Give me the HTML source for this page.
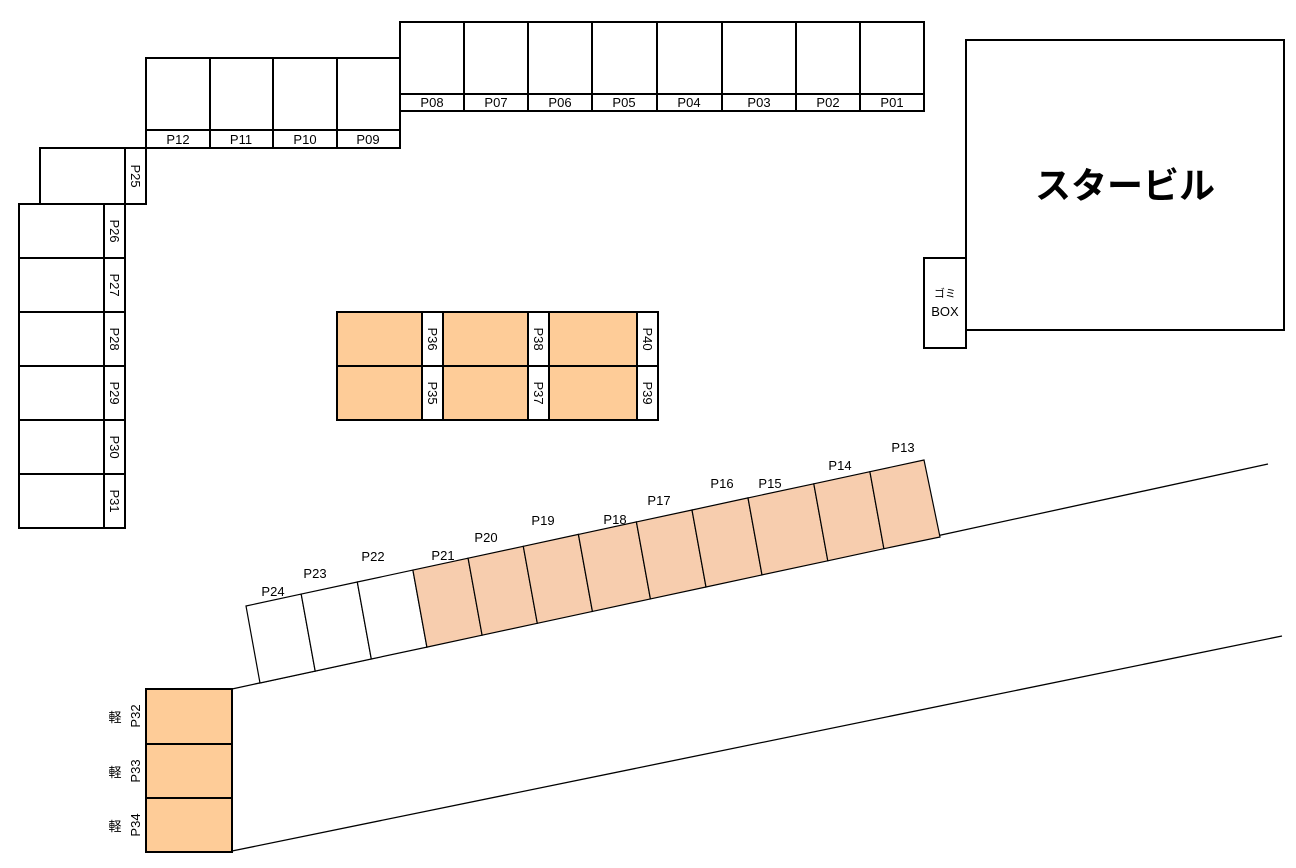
<!DOCTYPE html>
<html><head><meta charset="utf-8"><style>
html,body{margin:0;padding:0;background:#fff;}
svg{display:block;}
text{font-family:"Liberation Sans","Noto Sans CJK JP",sans-serif;font-size:13px;fill:#000;}
</style></head><body>
<svg width="1296" height="868" viewBox="0 0 1296 868" xmlns="http://www.w3.org/2000/svg">
<g fill="none" stroke="#000" stroke-width="2">
<!-- top row -->
<rect x="400" y="22" width="524" height="89"/>
<line x1="400" y1="94" x2="924" y2="94"/>
<line x1="464" y1="22" x2="464" y2="111"/><line x1="528" y1="22" x2="528" y2="111"/>
<line x1="592" y1="22" x2="592" y2="111"/><line x1="657" y1="22" x2="657" y2="111"/>
<line x1="722" y1="22" x2="722" y2="111"/><line x1="796" y1="22" x2="796" y2="111"/>
<line x1="860" y1="22" x2="860" y2="111"/>
<!-- second row -->
<rect x="146" y="58" width="254" height="90"/>
<line x1="146" y1="130" x2="400" y2="130"/>
<line x1="210" y1="58" x2="210" y2="148"/><line x1="273" y1="58" x2="273" y2="148"/><line x1="337" y1="58" x2="337" y2="148"/>
<!-- P25 -->
<rect x="40" y="148" width="106" height="56"/>
<line x1="125" y1="148" x2="125" y2="204"/>
<!-- left column -->
<rect x="19" y="204" width="106" height="324"/>
<line x1="104" y1="204" x2="104" y2="528"/>
<line x1="19" y1="258" x2="125" y2="258"/><line x1="19" y1="312" x2="125" y2="312"/>
<line x1="19" y1="366" x2="125" y2="366"/><line x1="19" y1="420" x2="125" y2="420"/>
<line x1="19" y1="474" x2="125" y2="474"/>
</g>
<!-- middle block -->
<g stroke="#000" stroke-width="2">
<rect x="337" y="312" width="321" height="108" fill="#fecc98"/>
<rect x="422" y="312" width="21" height="108" fill="#fff"/>
<rect x="528" y="312" width="21" height="108" fill="#fff"/>
<rect x="637" y="312" width="21" height="108" fill="#fff"/>
<line x1="337" y1="366" x2="658" y2="366"/>
</g>
<!-- building -->
<g fill="none" stroke="#000" stroke-width="2">
<rect x="966" y="40" width="318" height="290"/>
<rect x="924" y="258" width="42" height="90" fill="#fff"/>
</g>
<text x="1125" y="198" text-anchor="middle" style="font-size:36px;font-weight:bold">スタービル</text>
<text x="945" y="297" text-anchor="middle" style="font-size:11px">ゴミ</text>
<text x="945" y="316" text-anchor="middle" style="font-size:13px">BOX</text>
<!-- slanted lines -->
<g stroke="#000" stroke-width="1.3" fill="none">
<line x1="232" y1="689" x2="1268" y2="464"/>
<line x1="232" y1="851" x2="1282" y2="636"/>
</g>
<g stroke="#000" stroke-width="1.2">
<polygon points="246,606 301.2,594.1 315.2,671.1 260,683" fill="#fff"/>
<polygon points="301.2,594.1 357.3,582.0 371.3,659.0 315.2,671.1" fill="#fff"/>
<polygon points="357.3,582.0 412.9,570.1 426.9,647.1 371.3,659.0" fill="#fff"/>
<polygon points="412.9,570.1 468.1,558.2 482.1,635.2 426.9,647.1" fill="#f7cdae"/>
<polygon points="468.1,558.2 523.3,546.3 537.3,623.3 482.1,635.2" fill="#f7cdae"/>
<polygon points="523.3,546.3 578.4,534.4 592.4,611.4 537.3,623.3" fill="#f7cdae"/>
<polygon points="578.4,534.4 636.4,521.9 650.4,598.9 592.4,611.4" fill="#f7cdae"/>
<polygon points="636.4,521.9 692,510.0 706,587.0 650.4,598.9" fill="#f7cdae"/>
<polygon points="692,510.0 748,497.9 762,574.9 706,587.0" fill="#f7cdae"/>
<polygon points="748,497.9 813.8,483.8 827.8,560.8 762,574.9" fill="#f7cdae"/>
<polygon points="813.8,483.8 869.9,471.7 883.9,548.7 827.8,560.8" fill="#f7cdae"/>
<polygon points="869.9,471.7 924,460 940,537 883.9,548.7" fill="#f7cdae"/>
</g>
<!-- bottom-left -->
<g stroke="#000" stroke-width="2">
<rect x="146" y="689" width="86" height="163" fill="#fecc98"/>
<line x1="146" y1="744" x2="232" y2="744"/><line x1="146" y1="798" x2="232" y2="798"/>
</g>
<!-- labels top -->
<g text-anchor="middle">
<text x="432" y="107">P08</text><text x="496" y="107">P07</text><text x="560" y="107">P06</text>
<text x="624" y="107">P05</text><text x="689" y="107">P04</text><text x="759" y="107">P03</text>
<text x="828" y="107">P02</text><text x="892" y="107">P01</text>
<text x="178" y="144">P12</text><text x="241" y="144">P11</text><text x="305" y="144">P10</text><text x="368" y="144">P09</text>
<text x="273" y="596">P24</text><text x="315" y="578">P23</text><text x="373" y="561">P22</text>
<text x="443" y="560">P21</text><text x="486" y="542">P20</text><text x="543" y="525">P19</text>
<text x="615" y="524">P18</text><text x="659" y="505">P17</text><text x="722" y="488">P16</text>
<text x="770" y="488">P15</text><text x="840" y="470">P14</text><text x="903" y="452">P13</text>
</g>
<!-- rotated labels (top-to-bottom) -->
<g text-anchor="middle">
<text transform="translate(131,176) rotate(90)">P25</text>
<text transform="translate(110,231) rotate(90)">P26</text>
<text transform="translate(110,285) rotate(90)">P27</text>
<text transform="translate(110,339) rotate(90)">P28</text>
<text transform="translate(110,393) rotate(90)">P29</text>
<text transform="translate(110,447) rotate(90)">P30</text>
<text transform="translate(110,501) rotate(90)">P31</text>
<text transform="translate(428,339) rotate(90)">P36</text>
<text transform="translate(428,393) rotate(90)">P35</text>
<text transform="translate(534,339) rotate(90)">P38</text>
<text transform="translate(534,393) rotate(90)">P37</text>
<text transform="translate(643,339) rotate(90)">P40</text>
<text transform="translate(643,393) rotate(90)">P39</text>
</g>
<!-- bottom-left labels (bottom-to-top) -->
<g text-anchor="middle">
<text transform="translate(140,716) rotate(-90)">P32</text>
<text transform="translate(140,771) rotate(-90)">P33</text>
<text transform="translate(140,825) rotate(-90)">P34</text>
<text x="115" y="722">軽</text><text x="115" y="777">軽</text><text x="115" y="831">軽</text>
</g>
</svg>
</body></html>
